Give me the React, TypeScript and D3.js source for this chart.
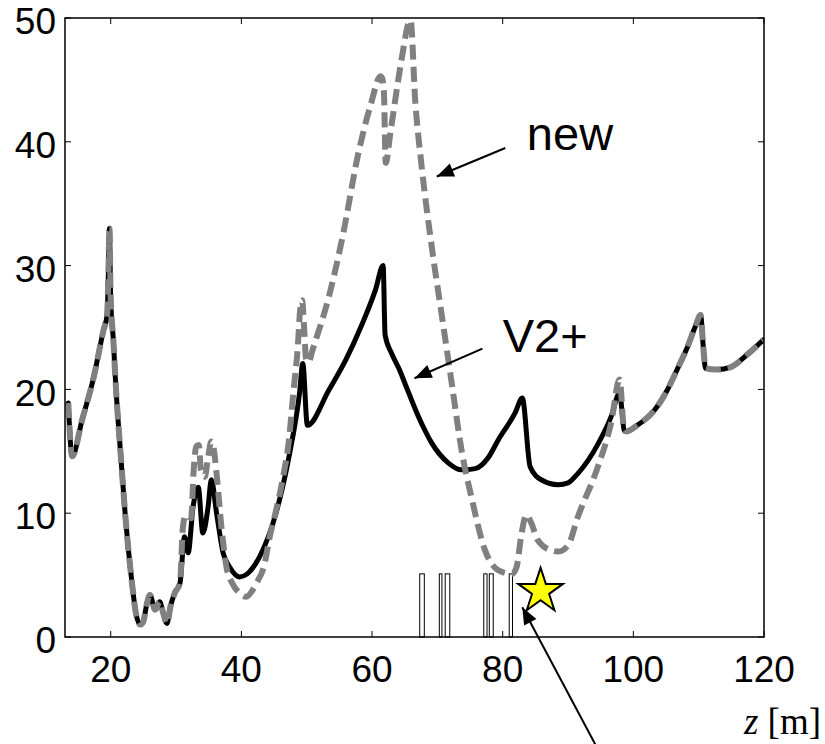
import React from "react";
import * as d3 from "d3";

const width = 825;
const height = 744;
const box = { left: 65, top: 18, right: 764, bottom: 637 };

const xTicks = [20, 40, 60, 80, 100, 120];
const yTicks = [0, 10, 20, 30, 40, 50];

// [z, value] - both lattices share the start and the end
const commonStart = [
  [13.5, 18.9], [14.1, 14.6], [15.6, 17.5], [17.4, 21.0], [18.9, 24.8], [19.45, 26.0],
  [19.65, 29.6], [19.8, 33.0], [20.0, 27.2], [20.4, 24.0], [20.7, 21.0], [21.7, 13.5],
  [22.2, 10.0], [23.2, 4.6], [23.9, 1.8], [24.5, 1.0], [24.95, 1.2], [25.5, 2.6],
  [26.0, 3.4], [26.8, 2.2], [27.5, 2.85], [28.0, 2.0], [28.6, 1.1], [29.2, 2.6],
  [29.8, 3.55], [30.6, 4.35],
];

const v2Middle = [
  [31.3, 8.1], [31.85, 6.8], [32.6, 10.5], [33.4, 12.1], [34.1, 8.4], [34.9, 10.5],
  [35.4, 12.7], [36.2, 10.0], [37.2, 6.8], [38.2, 5.65], [39.7, 4.85], [40.9, 5.1],
  [42.8, 6.5], [45.3, 10.0], [47.3, 14.6], [48.9, 19.7], [49.4, 22.1], [50.1, 17.1],
  [53.4, 19.95], [56.0, 22.4], [58.5, 25.3], [60.5, 28.0], [61.7, 30.0], [62.0, 24.4],
  [63.0, 22.9], [64.1, 21.7], [65.1, 20.4], [66.7, 18.3], [67.9, 16.9], [69.1, 15.7],
  [71.7, 14.05], [73.7, 13.5], [75.8, 13.6], [77.8, 14.5], [79.3, 15.9], [81.9, 18.1],
  [83.0, 19.3], [84.2, 13.75], [85.9, 12.7], [88.5, 12.3], [90.0, 12.45], [91.5, 13.2],
  [94.6, 15.6], [96.6, 17.8], [97.9, 19.7], [98.6, 16.7],
];

const newMiddle = [
  [31.05, 8.9], [31.5, 9.85], [32.3, 9.6], [32.7, 13.5], [33.1, 15.4], [33.5, 15.5],
  [33.8, 13.5], [34.4, 12.95], [34.85, 14.3], [35.4, 15.8], [35.8, 15.1], [36.2, 13.2],
  [37.0, 8.6], [37.7, 5.7], [38.65, 4.3], [39.7, 3.55], [40.7, 3.25], [42.3, 4.35],
  [43.5, 5.8], [44.3, 8.0], [45.3, 10.2], [46.3, 12.7], [47.3, 16.0], [48.0, 20.0],
  [48.6, 23.2], [49.0, 26.4], [49.3, 27.2], [49.6, 25.0], [49.9, 22.5], [50.3, 22.2],
  [50.9, 23.2], [53.4, 27.5], [55.4, 32.1], [58.0, 39.3], [59.8, 43.0], [61.3, 45.3],
  [61.5, 45.2], [61.8, 44.2], [62.1, 38.3], [62.8, 40.7], [64.6, 46.9], [65.6, 49.6],
  [65.9, 49.8], [66.6, 43.4], [67.6, 38.0], [69.2, 31.3], [70.7, 25.9], [72.2, 20.5],
  [73.7, 15.1], [75.3, 11.1], [77.3, 7.0], [79.3, 5.4], [81.4, 5.1], [82.1, 5.6],
  [82.9, 8.4], [83.6, 9.85], [84.3, 9.3], [85.4, 7.8], [87.4, 7.0], [88.5, 6.9],
  [90.0, 7.4], [91.5, 9.7], [94.6, 13.8], [96.6, 17.3], [97.9, 20.8], [98.6, 16.7],
];

const commonEnd = [
  [98.85, 16.6], [100.6, 17.1], [103.2, 18.3], [105.2, 19.95], [106.7, 21.6],
  [108.3, 23.45], [109.5, 25.1], [110.3, 26.0], [110.7, 23.45], [111.05, 21.7],
  [112.8, 21.6], [114.9, 21.8], [117.4, 22.8], [119.9, 24.0],
];

const v2Plus = [...commonStart, ...v2Middle, ...commonEnd];
const newLattice = [...commonStart, ...newMiddle, ...commonEnd];

// magnet positions [z0, z1]
const magnets = [
  [67.3, 68.0], [70.3, 70.7], [71.2, 71.9], [77.1, 77.6], [77.95, 78.55], [81.0, 81.5],
];
const magnetHeight = 5.1;

const starPos = [85.8, 3.7];

const arrows = [
  { from: [80.4, 39.5], to: [69.9, 37.2] },
  { from: [76.9, 23.3], to: [66.5, 20.9] },
  { from: [94.2, -8.7], to: [83.0, 2.4] },
];
const labels = [
  { text: "new", z: 83.7, v: 39.3 },
  { text: "V2+", z: 80.0, v: 23.0 },
];

const x = d3.scaleLinear().domain([13, 120]).range([box.left, box.right]);
const y = d3.scaleLinear().domain([0, 50]).range([box.bottom, box.top]);

const line = d3
  .line<number[]>()
  .x((d) => x(d[0]))
  .y((d) => y(d[1]))
  .curve(d3.curveMonotoneX);

const sans = "'Liberation Sans', Arial, sans-serif";

function arrowHead(from: number[], to: number[]) {
  const x1 = x(from[0]), y1 = y(from[1]);
  const x2 = x(to[0]), y2 = y(to[1]);
  const a = Math.atan2(y2 - y1, x2 - x1);
  const len = 17, half = 7;
  const bx = x2 - len * Math.cos(a), by = y2 - len * Math.sin(a);
  const px = -Math.sin(a) * half, py = Math.cos(a) * half;
  return `M${x2},${y2}L${bx + px},${by + py}L${bx - px},${by - py}Z`;
}

function starPath(cx: number, cy: number, r: number) {
  const pts = d3.range(10).map((i) => {
    const rr = i % 2 === 0 ? r : r * 0.382;
    const ang = -Math.PI / 2 + (i * Math.PI) / 5;
    return [cx + rr * Math.cos(ang), cy + rr * Math.sin(ang)];
  });
  return "M" + pts.map((p) => p.join(",")).join("L") + "Z";
}

export default function App() {
  return (
    <svg
      width={width}
      height={height}
      style={{ position: "absolute", left: 0, top: 0, background: "#fff" }}
    >
      <defs>
        <clipPath id="plotClip">
          <rect x={box.left} y={box.top - 3} width={box.right - box.left} height={box.bottom - box.top + 3} />
        </clipPath>
      </defs>

      {/* magnets */}
      {magnets.map((m, i) => (
        <rect
          key={i}
          x={x(m[0])}
          y={y(magnetHeight)}
          width={x(m[1]) - x(m[0])}
          height={y(0) - y(magnetHeight)}
          fill="#fff"
          stroke="#000"
          strokeWidth={1}
        />
      ))}

      <g clipPath="url(#plotClip)">
        <path d={line(v2Plus) || ""} fill="none" stroke="#000" strokeWidth={5} strokeLinejoin="round" strokeLinecap="round" />
        <path
          d={line(newLattice) || ""}
          fill="none"
          stroke="#808080"
          strokeWidth={6}
          strokeDasharray="15 7"
          strokeLinejoin="round"
        />
      </g>

      {/* frame */}
      <rect
        x={box.left}
        y={box.top}
        width={box.right - box.left}
        height={box.bottom - box.top}
        fill="none"
        stroke="#000"
        strokeWidth={1.5}
      />
      {xTicks.map((t) => (
        <g key={"x" + t}>
          <line x1={x(t)} x2={x(t)} y1={box.bottom} y2={box.bottom - 6} stroke="#000" strokeWidth={1} />
          <line x1={x(t)} x2={x(t)} y1={box.top} y2={box.top + 6} stroke="#000" strokeWidth={1} />
          <text x={x(t)} y={682} textAnchor="middle" fontFamily={sans} fontSize={37}>
            {t}
          </text>
        </g>
      ))}
      {yTicks.map((t) => (
        <g key={"y" + t}>
          <line x1={box.left} x2={box.left + 6} y1={y(t)} y2={y(t)} stroke="#000" strokeWidth={1} />
          <line x1={box.right} x2={box.right - 6} y1={y(t)} y2={y(t)} stroke="#000" strokeWidth={1} />
          <text x={56} y={y(t)} dy="0.44em" textAnchor="end" fontFamily={sans} fontSize={37}>
            {t}
          </text>
        </g>
      ))}

      {/* annotations */}
      {arrows.map((a, i) => (
        <g key={"a" + i}>
          <line x1={x(a.from[0])} y1={y(a.from[1])} x2={x(a.to[0])} y2={y(a.to[1])} stroke="#000" strokeWidth={2} />
          <path d={arrowHead(a.from, a.to)} fill="#000" />
        </g>
      ))}
      {labels.map((l) => (
        <text key={l.text} x={x(l.z)} y={y(l.v)} fontFamily={sans} fontSize={47}>
          {l.text}
        </text>
      ))}
      <path d={starPath(x(starPos[0]), y(starPos[1]), 23.5)} fill="#ffff00" stroke="#000" strokeWidth={2} strokeLinejoin="miter" />

      <text x={821} y={734} textAnchor="end" fontFamily="'Liberation Serif', 'Times New Roman', serif" fontSize={37}>
        <tspan fontStyle="italic">z</tspan> [m]
      </text>
    </svg>
  );
}
